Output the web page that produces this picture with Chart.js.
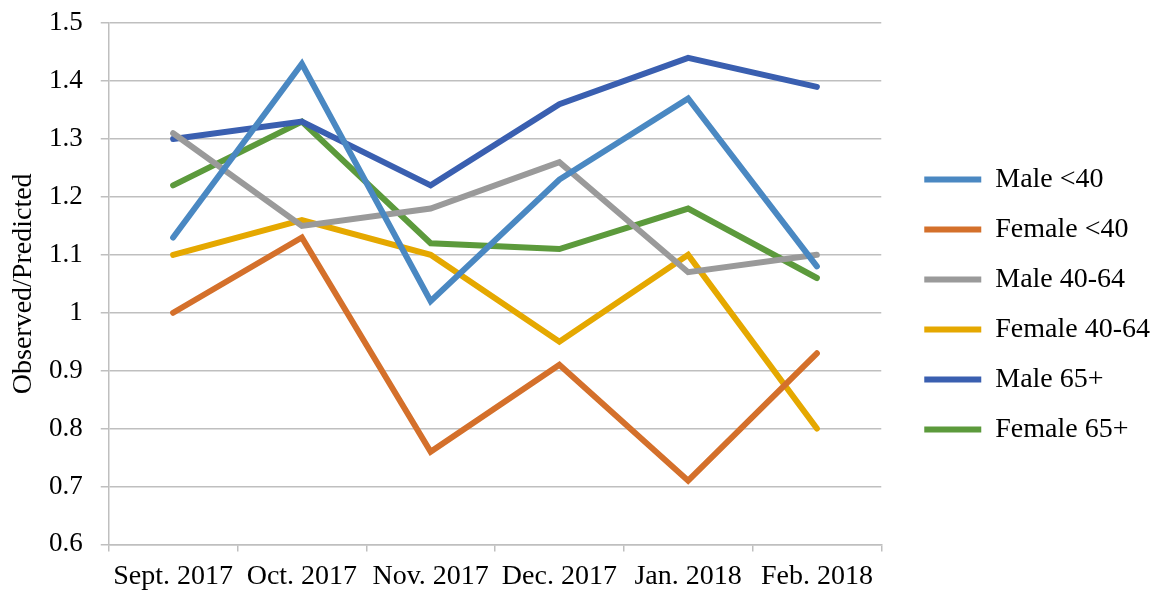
<!DOCTYPE html>
<html>
<head>
<meta charset="utf-8">
<script src="https://cdn.jsdelivr.net/npm/chart.js@4.4.1/dist/chart.umd.min.js"></script>
<style>
  html, body { margin: 0; padding: 0; background: #fff; overflow: hidden; }
  #wrap { width: 1175px; height: 596px; }
  canvas { display: block; }
</style>
</head>
<body>
<div id="wrap"><canvas id="chart" width="1175" height="596" aria-label="Observed/Predicted chart" role="img"></canvas></div>
<script>
const months = ['Sept. 2017', 'Oct. 2017', 'Nov. 2017', 'Dec. 2017', 'Jan. 2018', 'Feb. 2018'];

const male40 = [1.13, 1.43, 1.02, 1.23, 1.37, 1.08];
const female40 = [1.00, 1.13, 0.76, 0.91, 0.71, 0.93];
const male4064 = [1.31, 1.15, 1.18, 1.26, 1.07, 1.10];
const female4064 = [1.10, 1.16, 1.10, 0.95, 1.10, 0.80];
const male65 = [1.30, 1.33, 1.22, 1.36, 1.44, 1.39];
const female65 = [1.22, 1.33, 1.12, 1.11, 1.18, 1.06];

const yTicks = [0.6, 0.7, 0.8, 0.9, 1, 1.1, 1.2, 1.3, 1.4, 1.5];

const serif = '"Liberation Serif", "Times New Roman", serif';
const gridColor = '#bfbfbf';

const makeLine = (label, data, color) => ({
    label: label,
    data: data,
    borderColor: color,
    backgroundColor: color,
    borderWidth: 6,
    borderCapStyle: 'round',
    pointRadius: 0,
    tension: 0,
    fill: false
});

// move the legend box a bit away from the plot, like the original
// (whole box, since the legend clips to its own area)
const legendShift = {
    id: 'legendShift',
    afterLayout(chart) {
        const lg = chart.legend;
        lg.left += 21;
        lg.right += 21;
        lg.top += 4;
        lg.bottom += 4;
    }
};

const ctx = document.getElementById('chart').getContext('2d');
new Chart(ctx, {
    type: 'line',
    data: {
        labels: months,
        datasets: [
            makeLine('Male <40', male40, '#4a88c2'),
            makeLine('Female <40', female40, '#d4702b'),
            makeLine('Male 40-64', male4064, '#9a9a9a'),
            makeLine('Female 40-64', female4064, '#e5a800'),
            makeLine('Male 65+', male65, '#3a5fb0'),
            makeLine('Female 65+', female65, '#5c9a3c')
        ]
    },
    options: {
        responsive: false,
        animation: false,
        layout: {
            padding: { top: 0, right: 36, bottom: -5, left: 0 }
        },
        scales: {
            x: {
                offset: true,
                grid: {
                    offset: true,
                    drawOnChartArea: false,
                    drawTicks: true,
                    tickLength: 7,
                    color: gridColor,
                    lineWidth: 1.5
                },
                border: { color: gridColor, width: 1.5 },
                ticks: {
                    color: '#000',
                    padding: 8,
                    maxRotation: 0,
                    autoSkip: false,
                    font: { family: serif, size: 28 }
                }
            },
            y: {
                min: 0.6,
                max: 1.5,
                afterBuildTicks(axis) {
                    axis.ticks = yTicks.map(v => ({ value: v }));
                },
                grid: {
                    color: gridColor,
                    lineWidth: 1.5,
                    // long tick slot, only the inner 8px are drawn
                    tickLength: 19,
                    tickBorderDash: [8, 100],
                    tickBorderDashOffset: 97
                },
                border: { color: gridColor, width: 1.5 },
                ticks: {
                    color: '#000',
                    padding: 7,
                    font: { family: serif, size: 27 },
                    callback: v => String(Number(v.toFixed(1)))
                },
                title: {
                    display: true,
                    text: 'Observed/Predicted',
                    color: '#000',
                    padding: { top: 7.2, bottom: 1.2 },
                    font: { family: serif, size: 28 }
                }
            }
        },
        plugins: {
            legend: {
                position: 'right',
                labels: {
                    usePointStyle: true,
                    pointStyle: 'line',
                    pointStyleWidth: 57,
                    padding: 22,
                    color: '#000',
                    font: { family: serif, size: 28 }
                }
            },
            tooltip: { enabled: false }
        }
    },
    plugins: [legendShift]
});
</script>
</body>
</html>
